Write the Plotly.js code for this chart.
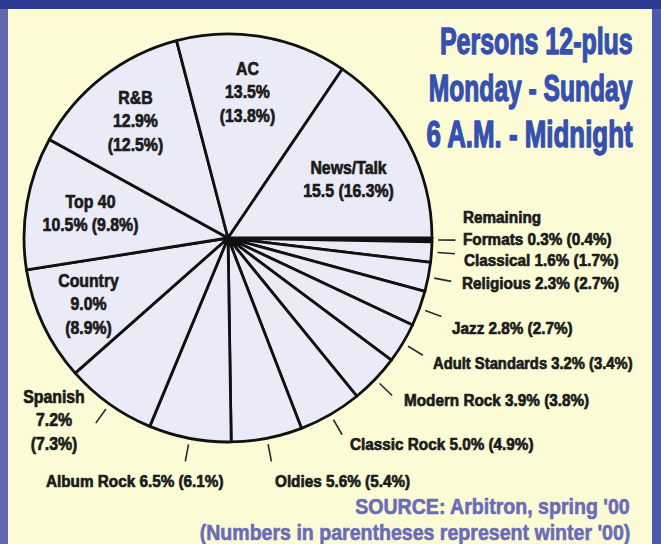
<!DOCTYPE html>
<html>
<head>
<meta charset="utf-8">
<script src="https://cdn.plot.ly/plotly-3.0.1.min.js"></script>
<style>html,body{margin:0;padding:0;background:#fdfbd5;}#chart{width:661px;height:544px;}</style>
</head>
<body>
<div id="chart"></div>
<script>
// ---- data (clockwise from 3 o'clock) ----
const formats = ['Remaining Formats','Classical','Religious','Jazz','Adult Standards','Modern Rock','Classic Rock','Oldies','Album Rock','Spanish','Country','Top 40','R&B','AC','News/Talk'];
const spring  = [0.3, 1.6, 2.3, 2.8, 3.2, 3.9, 5.0, 5.6, 6.5, 7.2, 9.0, 10.5, 12.9, 13.5, 15.5];
const winter  = [0.4, 1.7, 2.7, 2.7, 3.4, 3.8, 4.9, 5.4, 6.1, 7.3, 8.9, 9.8, 12.5, 13.8, 16.3];
// label templates: {s}=spring %, {n}=spring number only, {w}=winter %
const labelTemplates = [
  'Remaining<br>Formats {s} ({w})', 'Classical {s} ({w})', 'Religious {s} ({w})', 'Jazz {s} ({w})',
  'Adult Standards {s} ({w})', 'Modern Rock {s} ({w})', 'Classic Rock {s} ({w})', 'Oldies {s} ({w})',
  'Album Rock {s} ({w})', 'Spanish<br>{s}<br>({w})', 'Country<br>{s}<br>({w})', 'Top 40<br>{s} ({w})',
  'R&B<br>{s}<br>({w})', 'AC<br>{s}<br>({w})', 'News/Talk<br>{n} ({w})'
];
const hasLeader = [true,true,true,true,true,true,true,true,true,true,false,false,false,false,false];
const titleLines  = ['Persons 12-plus', 'Monday - Sunday', '6 A.M. - Midnight'];
const sourceLines = ["SOURCE: Arbitron, spring '00", "(Numbers in parentheses represent winter '00)"];

// ---- layout constants (pixels) ----
const W = 661, H = 544;
const CX = 228, CY = 238, R = 204;
// label placement: [x px, y px, xanchor]
const labelPos = [
  [461,228,'left'], [462,260,'left'], [460,283,'left'], [450,328,'left'],
  [431,363,'left'], [402,400,'left'], [348,444,'left'], [273,481,'left'],
  [44,481,'left'], [54,420,'center'], [88,304,'center'], [90,214,'center'],
  [135,122,'center'], [247,93,'center'], [348,179,'center']
];

const px = x => x / W;
const py = y => 1 - y / H;
const FONT = '"Liberation Sans", Arial, Helvetica, sans-serif';

const total = spring.reduce((a,b)=>a+b,0);
const annotations = [];
const annScale = [];   // horizontal condensing of each annotation
const annStroke = [];  // extra weight of each annotation
const shapes = [];

// border / frame
shapes.push({type:'rect', xref:'paper', yref:'paper', x0:0, x1:px(8), y0:0, y1:1, fillcolor:'#6068b2', line:{width:0}, layer:'below'});
shapes.push({type:'rect', xref:'paper', yref:'paper', x0:px(652), x1:1, y0:0, y1:1, fillcolor:'#4b5aae', line:{width:0}, layer:'below'});
shapes.push({type:'rect', xref:'paper', yref:'paper', x0:0, x1:1, y0:py(9), y1:1, fillcolor:'#2d3b92', line:{width:0}, layer:'below'});

let cum = 0;
spring.forEach((v, i) => {
  const mid = (cum + v / 2) / total;
  cum += v;
  const th = mid * 2 * Math.PI;
  const txt = labelTemplates[i]
    .replace('{s}', v.toFixed(1) + '%')
    .replace('{n}', v.toFixed(1))
    .replace('{w}', winter[i].toFixed(1) + '%');
  const p = labelPos[i];
  const inner = !hasLeader[i] || i === 9;
  annotations.push({
    xref:'paper', yref:'paper', x:px(p[0]), y:py(p[1]), xanchor:p[2], yanchor:'middle',
    align:p[2] === 'left' ? 'left' : 'center', showarrow:false,
    text:'<b>' + txt + '</b>',
    font:{family:FONT, size: inner ? 18 : 17, color:'#1b1b1b'}
  });
  annScale.push(inner ? 0.88 : (i === 4 ? 0.87 : 0.90));
  annStroke.push(0.7);
  if (hasLeader[i]) {
    const r0 = R * 1.03, r1 = R * 1.115;
    shapes.push({type:'line', xref:'paper', yref:'paper',
      x0:px(CX + r0 * Math.cos(th)), y0:py(CY + r0 * Math.sin(th)),
      x1:px(CX + r1 * Math.cos(th)), y1:py(CY + r1 * Math.sin(th)),
      line:{color:'#2a2a2a', width:1.6}});
  }
});

// title
const titleY = [42, 89, 134];
const titleScale = [0.675, 0.665, 0.70];
titleLines.forEach((t, i) => {
  annotations.push({
    xref:'paper', yref:'paper', x:px(635), y:py(titleY[i]), xanchor:'right', yanchor:'middle',
    showarrow:false, text:'<b>' + t + '</b>', font:{family:FONT, size:37, color:'#3550b0'}
  });
  annScale.push(titleScale[i]);
  annStroke.push(1.4);
});
// source
const sourceY = [507, 533];
sourceLines.forEach((t, i) => {
  annotations.push({
    xref:'paper', yref:'paper', x:px(632), y:py(sourceY[i]), xanchor:'right', yanchor:'middle',
    showarrow:false, text:'<b>' + t + '</b>', font:{family:FONT, size:21.5, color:'#6a6cb8'}
  });
  annScale.push(0.91);
  annStroke.push(0.6);
});

const colors = spring.map((v, i) => i === 0 ? '#111111' : '#ebebf7');

const trace = {
  type:'pie', values:spring, labels:formats, sort:false, direction:'clockwise', rotation:90,
  textinfo:'none', hoverinfo:'label+value', showlegend:false,
  marker:{colors:colors, line:{color:'#111111', width:2.8}},
  domain:{x:[px(CX - R), px(CX + R)], y:[py(CY + R), py(CY - R)]}
};

Plotly.newPlot('chart', [trace], {
  width:W, height:H, margin:{l:0, r:0, t:0, b:0},
  paper_bgcolor:'#fdfbd5', plot_bgcolor:'#fdfbd5',
  showlegend:false, annotations:annotations, shapes:shapes
}, {displayModeBar:false, staticPlot:true}).then(gd => {
  // emulate the heavy condensed typeface: narrow each text around its anchor and thicken its strokes
  gd.querySelectorAll('g.annotation').forEach(g => {
    const idx = +g.getAttribute('data-index');
    const a = annotations[idx];
    const t = g.querySelector('text.annotation-text');
    if (!t) return;
    const origin = a.xanchor === 'left' ? 'left center' : a.xanchor === 'right' ? 'right center' : 'center center';
    t.style.transformBox = 'fill-box';
    t.style.transformOrigin = origin;
    t.style.transform = 'scaleX(' + annScale[idx] + ')';
    t.style.stroke = a.font.color;
    t.style.strokeWidth = annStroke[idx] + 'px';
    t.style.strokeLinejoin = 'round';
  });
});
</script>
</body>
</html>
